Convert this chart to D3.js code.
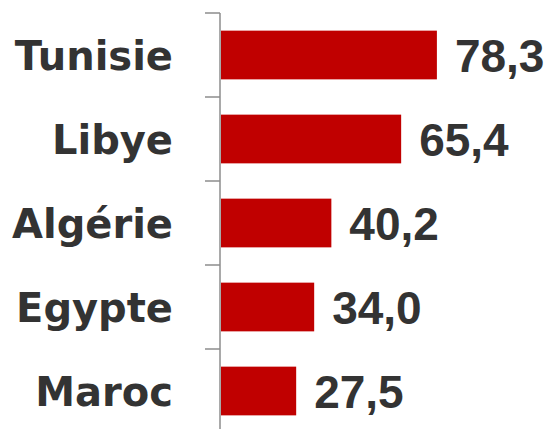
<!DOCTYPE html>
<html lang="fr">
<head>
    <meta charset="UTF-8">
    <title>Tunisie, Libye, Algérie, Egypte, Maroc</title>
    <style>
        body {
            margin: 0;
            background: #fff;
        }
        svg {
            display: block;
        }
    </style>
</head>
<body>
    <svg width="550" height="429"></svg>

    <script src="https://d3js.org/d3.v7.min.js"></script>
    <script>
        let countries = ["Tunisie", "Libye", "Algérie", "Egypte", "Maroc"];
        let values = [78.3, 65.4, 40.2, 34.0, 27.5];
        let valueLabels = ["78,3", "65,4", "40,2", "34,0", "27,5"];

        let svg = d3.select("svg");

        let xScale = d3.scaleLinear().domain([0, 100]).range([220, 497]);
        let yScale = d3.scaleBand()
            .domain(countries)
            .range([13, 433])
            .paddingInner(0.42)
            .paddingOuter(0.21);

        let half = (yScale.step() - yScale.bandwidth()) / 2;
        let boundaries = countries.map(c => yScale(c) - half);
        boundaries.push(yScale.range()[1]);

        // bars
        svg.selectAll("rect.bar")
            .data(countries)
            .enter()
            .append("rect")
            .attr("class", "bar")
            .attr("x", xScale(0) + 1)
            .attr("y", d => yScale(d))
            .attr("width", (d, i) => xScale(values[i]) - xScale(0) - 1)
            .attr("height", yScale.bandwidth())
            .style("fill", "#c00000");

        // vertical axis line with ticks between categories
        let axis = svg.append("g").attr("class", "axis");
        axis.append("line")
            .attr("x1", xScale(0))
            .attr("x2", xScale(0))
            .attr("y1", yScale.range()[0])
            .attr("y2", yScale.range()[1])
            .style("stroke", "#8c8c8c")
            .style("stroke-width", 1.5);
        axis.selectAll("line.tick")
            .data(boundaries)
            .enter()
            .append("line")
            .attr("class", "tick")
            .attr("x1", xScale(0) - 15)
            .attr("x2", xScale(0))
            .attr("y1", d => d)
            .attr("y2", d => d)
            .style("stroke", "#8c8c8c")
            .style("stroke-width", 1.5);

        // category labels
        svg.selectAll("text.cat")
            .data(countries)
            .enter()
            .append("text")
            .attr("class", "cat")
            .attr("x", 173)
            .attr("y", d => yScale(d) + yScale.bandwidth() / 2 + 15)
            .attr("text-anchor", "end")
            .style("font-family", "'DejaVu Sans', sans-serif")
            .style("font-weight", "bold")
            .style("font-size", "40px")
            .style("fill", "#333333")
            .text(d => d);

        // value labels
        svg.selectAll("text.val")
            .data(countries)
            .enter()
            .append("text")
            .attr("class", "val")
            .attr("x", (d, i) => xScale(values[i]) + 18)
            .attr("y", d => yScale(d) + yScale.bandwidth() / 2 + 17)
            .style("font-family", "'Liberation Sans', Arial, sans-serif")
            .style("font-weight", "bold")
            .style("font-size", "46px")
            .style("fill", "#333333")
            .text((d, i) => valueLabels[i]);
    </script>
</body>
</html>
